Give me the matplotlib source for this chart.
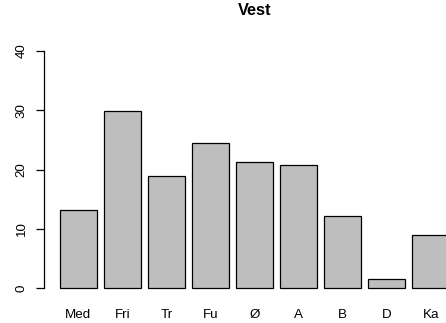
import numpy as np
import matplotlib
matplotlib.use("Agg")
import matplotlib.pyplot as plt

# Data
kategorier = ["Med", "Fri", "Tr", "Fu", "Ø", "A", "B", "D", "Ka"]
verdier = [13.1, 29.8, 18.9, 24.5, 21.3, 20.8, 12.2, 1.6, 9.0]
y_ticks = [0, 10, 20, 30, 40]

plt.rcParams["font.family"] = ["Liberation Sans", "DejaVu Sans"]

fig = plt.figure(figsize=(4.46, 3.23), dpi=100)
# axes runs past the right edge, like the cropped original
ax = fig.add_axes([44.4 / 446, 25.5 / 323, 420.2 / 446, 256 / 323])

# R-style barplot positions: width 1, space 0.2
x = 0.7 + 1.2 * np.arange(len(kategorier))
ax.bar(x, verdier, width=1.0, color="#BEBEBE", edgecolor="black", linewidth=0.9)

ax.set_xlim(-0.224, 11.224)
ax.set_ylim(-1.6, 41.6)
ax.set_xticks(x)
ax.set_xticklabels(kategorier, fontsize=9.6)
ax.tick_params(axis="x", length=0, pad=8)
ax.set_yticks(y_ticks)
ax.set_yticklabels([str(v) for v in y_ticks], rotation=90, va="center", fontsize=9.6)
ax.tick_params(axis="y", length=6, width=0.9, pad=6)

for s in ["top", "right", "bottom"]:
    ax.spines[s].set_visible(False)
ax.spines["left"].set_bounds(0, 40)
ax.spines["left"].set_linewidth(0.9)
ax.set_facecolor("none")

fig.text(255 / 446, 1 - 10.5 / 323, "Vest", ha="center", va="center",
         fontsize=11.8, fontweight="bold")

fig.savefig("out.png", dpi=100)
